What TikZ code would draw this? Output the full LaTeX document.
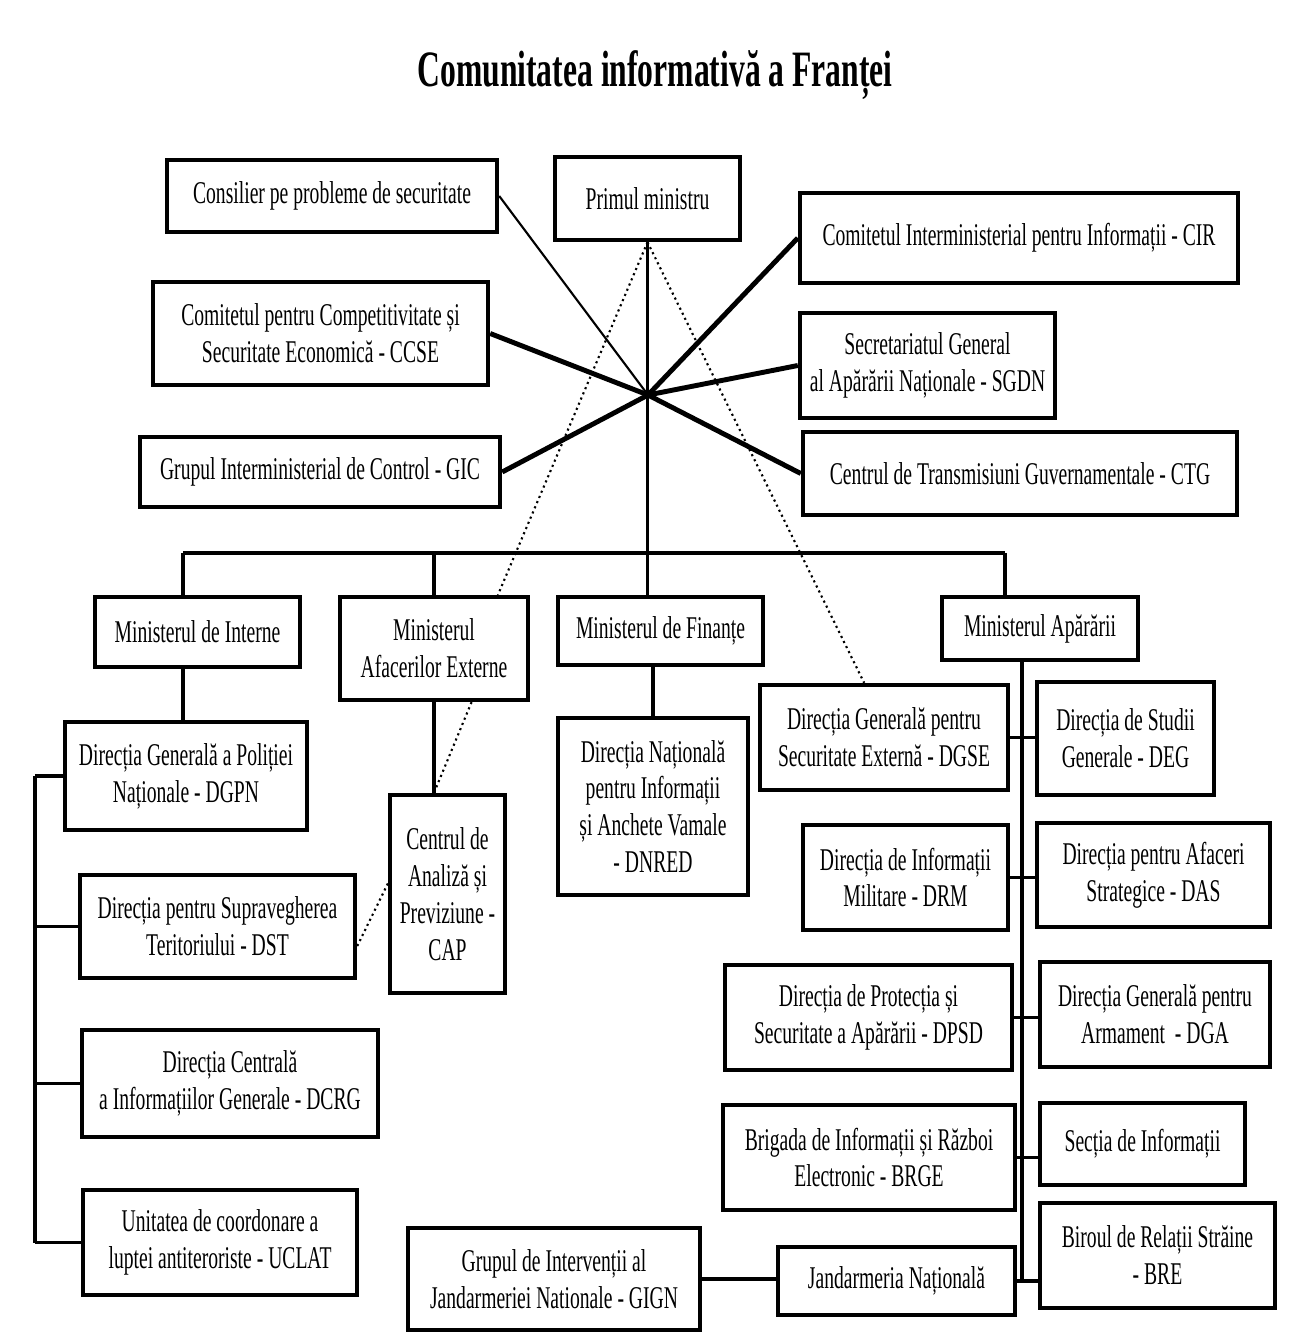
\documentclass[tikz,border=0pt]{standalone}
\usepackage{fontspec}
\setmainfont{Liberation Serif}[FakeStretch=0.62]

\begin{document}
\begin{tikzpicture}[x=0.01cm, y=-0.01cm,
    box/.style={draw, line width=1.2pt, align=center, inner sep=0pt,
        font=\fontsize{9}{10.5}\selectfont},
    thinline/.style={line width=0.6pt},
    thickline/.style={line width=1.4pt},
    busline/.style={line width=1pt},
    dotline/.style={line width=0.6pt, densely dotted}]

\useasboundingbox[fill=white] (0,0) rectangle (1297,1343);

% Title
\node (title) at (655,75) {\fontsize{14.5}{16}\selectfont\bfseries Comunitatea informativă a Franței};

% Top group
\node[box, minimum width=3.30cm, minimum height=0.72cm] (cons) at (332,196) {Consilier pe probleme de securitate};
\node[box, minimum width=1.85cm, minimum height=0.83cm] (prim) at (647.5,198.5) {Primul ministru};
\node[box, minimum width=4.38cm, minimum height=0.90cm] (cir) at (1019,238) {Comitetul Interministerial pentru Informații - CIR};
\node[box, minimum width=3.35cm, minimum height=1.03cm] (ccse) at (320.5,333.5) {Comitetul pentru Competitivitate și\\Securitate Economică - CCSE};
\node[box, minimum width=2.55cm, minimum height=1.05cm] (sgdn) at (927.5,365.5) {Secretariatul General\\al Apărării Naționale - SGDN};
\node[box, minimum width=3.60cm, minimum height=0.70cm] (gic) at (320,472) {Grupul Interministerial de Control - GIC};
\node[box, minimum width=4.34cm, minimum height=0.83cm] (ctg) at (1020,473.5) {Centrul de Transmisiuni Guvernamentale - CTG};

% Star of lines
\coordinate (hub) at (648,395);
\draw[thinline] (cons.east) -- (hub);
\draw[thickline] (ccse.east) -- (hub) -- (ctg.west);
\draw[thickline] (gic.east) -- (hub) -- (cir.west);
\draw[thickline] (sgdn.west) -- (hub);

% Ministries
\node[box, minimum width=2.05cm, minimum height=0.70cm] (mi) at (197.5,632) {Ministerul de Interne};
\node[box, minimum width=1.88cm, minimum height=1.03cm] (mae) at (434,648.5) {Ministerul\\Afacerilor Externe};
\node[box, minimum width=2.05cm, minimum height=0.68cm] (mf) at (660.5,631) {Ministerul de Finanțe};
\node[box, minimum width=1.96cm, minimum height=0.63cm] (mapa) at (1040,628.5) {Ministerul Apărării};

% Bus under the prime minister
\coordinate (busL) at (183,553);
\coordinate (busR) at (1005,553);
\draw[busline] (busL) -- (busR);
\draw[busline] (busL) -- (busL |- mi.north);
\draw[busline] (busR) -- (busR |- mapa.north);
\draw[busline] (mae.north |- busL) -- (mae.north);
\draw[thinline] (prim.south) -- (prim.south |- mf.north);

% Dotted links
\draw[dotline] (prim.south) -- (mae.40);

% Interne
\node[box, minimum width=2.42cm, minimum height=1.08cm] (dgpn) at (186,776) {Direcția Generală a Poliției\\Naționale - DGPN};
\node[box, minimum width=2.75cm, minimum height=1.03cm] (dst) at (217.5,926.5) {Direcția pentru Supravegherea\\Teritoriului - DST};
\node[box, minimum width=2.96cm, minimum height=1.07cm] (dcrg) at (230,1083.5) {Direcția Centrală\\a Informațiilor Generale - DCRG};
\node[box, minimum width=2.74cm, minimum height=1.05cm] (uclat) at (220,1242.5) {Unitatea de coordonare a\\luptei antiteroriste - UCLAT};

\draw[busline] (busL |- mi.south) -- (busL |- dgpn.north);
\coordinate (lbus) at (35,0);
\draw[busline] (lbus |- dgpn.west) -- (lbus |- uclat.west);
\foreach \n in {dgpn,dst,dcrg,uclat}
    \draw[busline] (lbus |- \n.west) -- (\n.west);

% Externe and Finante
\node[box, minimum width=1.15cm, minimum height=1.98cm] (cap) at (447.5,894) {Centrul de\\Analiză și\\Previziune -\\CAP};
\node[box, minimum width=1.90cm, minimum height=1.77cm] (dnred) at (653,806.5) {Direcția Națională\\pentru Informații\\și Anchete Vamale\\- DNRED};

\coordinate (capin) at (mae.south |- cap.north);
\draw[busline] (mae.south) -- (capin);
\draw[dotline] (mae.-55) -- (capin);
\draw[dotline] (cap.170) -- (dst.-8);
\draw[busline] (dnred.north |- mf.south) -- (dnred.north);

% Apararii
\node[box, minimum width=2.48cm, minimum height=1.05cm] (dgse) at (884,737.5) {Direcția Generală pentru\\Securitate Externă - DGSE};
\node[box, minimum width=1.77cm, minimum height=1.13cm] (deg) at (1125.5,738.5) {Direcția de Studii\\Generale - DEG};
\node[box, minimum width=2.05cm, minimum height=1.05cm] (drm) at (905.5,877.5) {Direcția de Informații\\Militare - DRM};
\node[box, minimum width=2.33cm, minimum height=1.04cm] (das) at (1153.5,875) {Direcția pentru Afaceri\\Strategice - DAS};
\node[box, minimum width=2.87cm, minimum height=1.05cm] (dpsd) at (868.5,1017.5) {Direcția de Protecția și\\Securitate a Apărării - DPSD};
\node[box, minimum width=2.30cm, minimum height=1.05cm] (dga) at (1155,1014.5) {Direcția Generală pentru\\Armament\ \ - DGA};
\node[box, minimum width=2.92cm, minimum height=1.05cm] (brge) at (869,1157.5) {Brigada de Informații și Război\\Electronic - BRGE};
\node[box, minimum width=2.05cm, minimum height=0.82cm] (sectia) at (1142.5,1144) {Secția de Informații};
\node[box, minimum width=2.37cm, minimum height=0.68cm] (jand) at (896.5,1281) {Jandarmeria Națională};
\node[box, minimum width=2.35cm, minimum height=1.05cm] (bre) at (1157.5,1255.5) {Biroul de Relații Străine\\- BRE};
\node[box, minimum width=2.92cm, minimum height=1.02cm] (gign) at (554,1279) {Grupul de Intervenții al\\Jandarmeriei Nationale - GIGN};

\draw[dotline] (prim.south) -- (dgse.110);

\coordinate (rbus) at (1022,0);
\draw[busline] (rbus |- mapa.south) -- (rbus |- jand.east);
\draw[busline] (dgse.east) -- (dgse.east -| deg.west);
\draw[busline] (drm.east) -- (drm.east -| das.west);
\draw[busline] (dpsd.east) -- (dpsd.east -| dga.west);
\draw[busline] (brge.east) -- (brge.east -| sectia.west);
\draw[busline] (jand.east) -- (jand.east -| bre.west);
\draw[busline] (gign.east) -- (gign.east -| jand.west);

\end{tikzpicture}
\end{document}
